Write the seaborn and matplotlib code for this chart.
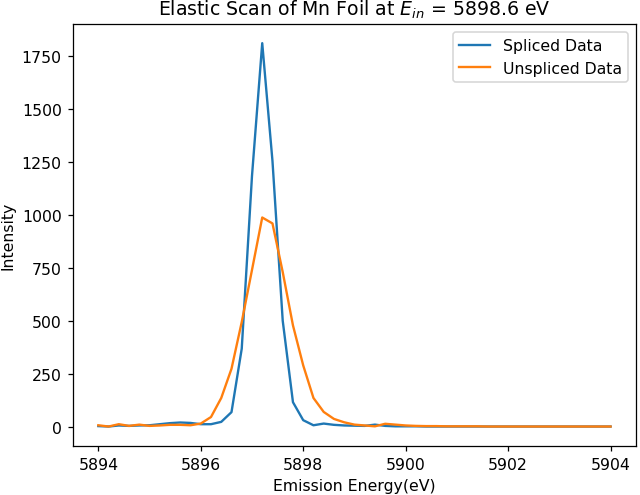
import matplotlib
matplotlib.use("Agg")
import matplotlib.pyplot as plt
import seaborn as sns
import pandas as pd

# Emission energy grid (eV)
energy = [5894.0, 5894.2, 5894.4, 5894.6, 5894.8, 5895.0, 5895.2, 5895.4, 5895.6, 5895.8,
          5896.0, 5896.2, 5896.4, 5896.6, 5896.8, 5897.0, 5897.2, 5897.4, 5897.6, 5897.8,
          5898.0, 5898.2, 5898.4, 5898.6, 5898.8, 5899.0, 5899.2, 5899.4, 5899.6, 5899.8,
          5900.0, 5900.2, 5900.4, 5900.6, 5900.8, 5901.0, 5901.2, 5901.4, 5901.6, 5901.8,
          5902.0, 5902.2, 5902.4, 5902.6, 5902.8, 5903.0, 5903.2, 5903.4, 5903.6, 5903.8,
          5904.0]

# Intensities
spliced = [2, 0, 5, 3, 5, 6, 11, 16, 19, 17,
           11, 11, 22, 68, 368, 1184, 1812, 1255, 500, 115,
           30, 6, 14, 8, 5, 4, 3, 9, 3, 1,
           1, 1, 0, 0, 0, 0, 0, 0, 0, 0,
           0, 0, 0, 0, 0, 0, 0, 0, 0, 0,
           0]
unspliced = [6, 0, 11, 3, 9, 3, 5, 8, 8, 6,
             14, 45, 135, 273, 494, 740, 988, 960, 730, 478,
             289, 135, 69, 36, 20, 9, 5, 1, 13, 9,
             5, 3, 2, 2, 1, 1, 1, 1, 0, 0,
             0, 0, 0, 0, 0, 0, 0, 0, 0, 0,
             0]

df = pd.DataFrame({
    'Energy': energy * 2,
    'Intensity': spliced + unspliced,
    'Data': ['Spliced Data'] * len(energy) + ['Unspliced Data'] * len(energy),
})

dpi = 113
fig, ax = plt.subplots(figsize=(640 / dpi, 496 / dpi), dpi=dpi)
fig.subplots_adjust(left=0.1136, right=0.994, bottom=0.0994, top=0.9496)

sns.lineplot(data=df, x='Energy', y='Intensity', hue='Data', ax=ax,
             palette=['#1f77b4', '#ff7f0e'])

ax.legend(loc='upper right')
ax.set_title(r'Elastic Scan of Mn Foil at $E_{in}$ = 5898.6 eV')
ax.set_xlabel('Emission Energy(eV)')
ax.set_ylabel('Intensity')
ax.ticklabel_format(axis='x', useOffset=False)

fig.savefig('out.png', dpi=dpi)
